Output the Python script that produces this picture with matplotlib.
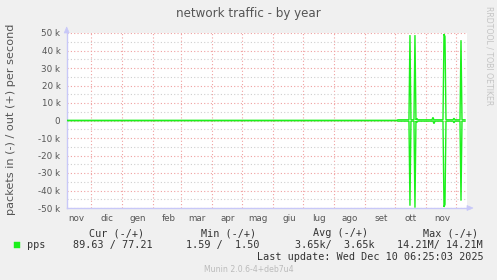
import matplotlib
matplotlib.use("Agg")
import matplotlib.pyplot as plt
import matplotlib.dates as mdates
from matplotlib.patches import Rectangle, Polygon
from matplotlib.ticker import FixedLocator, FuncFormatter
import datetime as dt

W, H = 497, 280

# ---------------- data ----------------
title = "network traffic - by year"
ylabel = "packets in (-) / out (+) per second"
it_months = ["gen", "feb", "mar", "apr", "mag", "giu",
             "lug", "ago", "set", "ott", "nov", "dic"]
ytick_values = [-50000, -40000, -30000, -20000, -10000, 0,
                10000, 20000, 30000, 40000, 50000]
ytick_labels = ["-50 k", "-40 k", "-30 k", "-20 k", "-10 k", "0",
                "10 k", "20 k", "30 k", "40 k", "50 k"]

dates = ["2024-11-07", "2025-10-03", "2025-10-04", "2025-10-15", "2025-10-16",
         "2025-10-17", "2025-10-20", "2025-10-21", "2025-10-22", "2025-10-23",
         "2025-10-24", "2025-11-07", "2025-11-08", "2025-11-09", "2025-11-10",
         "2025-11-18", "2025-11-19", "2025-11-20", "2025-11-21", "2025-11-28",
         "2025-11-29", "2025-11-30", "2025-12-05", "2025-12-06", "2025-12-07",
         "2025-12-10"]
out_pps = [80, 80, 400, 400, 48800,
           400, 400, 48800, 400, 1100,
           400, 400, 1800, 300, 400,
           400, 49400, 48000, 400, 400,
           1300, 400, 400, 45900, 400,
           400]
in_pps = [90, 90, 350, 350, 48700,
          350, 350, 49800, 350, 1000,
          350, 350, 300, 1800, 350,
          350, 49400, 48000, 350, 350,
          1300, 350, 350, 45800, 350,
          350]

x_start = "2024-11-07"
x_end = "2025-12-12"

series_name = "pps"
legend_header = ["Cur (-/+)", "Min (-/+)", "Avg (-/+)", "Max (-/+)"]
legend_values = ["89.63 / 77.21", "1.59 /  1.50", "3.65k/  3.65k", "14.21M/ 14.21M"]
last_update = "Last update: Wed Dec 10 06:25:03 2025"
footer = "Munin 2.0.6-4+deb7u4"
watermark = "RRDTOOL / TOBI OETIKER"

# ---------------- styling ----------------
BG = "#F0F0F0"
LINE = "#1BF01B"
AXIS = "#C8C8F8"
MGRID = "#F0A0A0"
GRID = "#CFCFCF"
TXT = "#555555"


def px(x, y):
    return (x / W, 1 - y / H)


fig = plt.figure(figsize=(W / 100, H / 100), dpi=100, facecolor=BG)
L, R, T, B = 66.7, 467.0, 33.0, 208.0
ax = fig.add_axes([L / W, 1 - B / H, (R - L) / W, (B - T) / H])
ax.set_facecolor("white")

d = [mdates.date2num(dt.datetime.strptime(s, "%Y-%m-%d")) for s in dates]
ax.plot(d, out_pps, color=LINE, lw=1.0, solid_joinstyle="miter", zorder=5)
ax.plot(d, [-v for v in in_pps], color=LINE, lw=1.0, solid_joinstyle="miter", zorder=5)

x0 = mdates.date2num(dt.datetime.strptime(x_start, "%Y-%m-%d"))
x1 = mdates.date2num(dt.datetime.strptime(x_end, "%Y-%m-%d"))
ax.set_xlim(x0, x1)
ax.set_ylim(-50000, 50000)

# y ticks / grid
ax.yaxis.set_major_locator(FixedLocator(ytick_values))
ax.set_yticklabels(ytick_labels)
ax.yaxis.set_minor_locator(FixedLocator([v + 5000 for v in ytick_values[:-1]]))
ax.grid(True, which="major", axis="y", color=MGRID, linestyle=(0, (1, 2)), lw=0.8)
ax.grid(True, which="minor", axis="y", color=GRID, linestyle=(0, (1, 2)), lw=0.8)

# x ticks: month starts = grid, labels on mid-month
ax.xaxis.set_major_locator(mdates.MonthLocator())
ax.xaxis.set_major_formatter(FuncFormatter(lambda v, p: ""))
ax.xaxis.set_minor_locator(mdates.MonthLocator(bymonthday=17))
ax.xaxis.set_minor_formatter(FuncFormatter(lambda v, p: it_months[mdates.num2date(v).month - 1]))
ax.grid(True, which="major", axis="x", color=MGRID, linestyle=(0, (1, 2)), lw=0.8)

ax.tick_params(axis="both", which="both", length=0, colors=TXT, labelsize=6.3)
ax.tick_params(axis="y", pad=4.5)
ax.tick_params(axis="x", which="minor", pad=4)

for s in ["top", "right"]:
    ax.spines[s].set_visible(False)
for s in ["left", "bottom"]:
    ax.spines[s].set_color(AXIS)
    ax.spines[s].set_linewidth(1.0)
ax.set_axisbelow(True)

# axis arrows
def fpoly(pts):
    fig.patches.append(Polygon([px(x, y) for x, y in pts], closed=True,
                               transform=fig.transFigure, facecolor=AXIS,
                               edgecolor=AXIS, lw=0.5))

fpoly([(64.2, 33), (69.2, 33), (66.7, 27)])
ax_line = plt.Line2D([R / W, 470 / W], [1 - B / H, 1 - B / H], transform=fig.transFigure,
                     color=AXIS, lw=1.0)
fig.lines.append(ax_line)
fpoly([(467, 205.5), (467, 210.5), (473, 208)])

# texts
fig.text(*px(248, 13), title, ha="center", va="center", color=TXT, fontsize=8.6,
         family="DejaVu Sans")
fig.text(*px(11, 119), ylabel, ha="center", va="center", rotation=90, color=TXT,
         fontsize=8.1, family="DejaVu Sans")
fig.text(*px(489, 6), watermark, ha="center", va="top", rotation=270, color="#C4C4C4",
         fontsize=5.6, family="DejaVu Sans")

mono = dict(family="DejaVu Sans Mono", fontsize=7.3, color="#333333", va="center")
for txt, x in zip(legend_header, [89, 201, 313, 423]):
    fig.text(*px(x, 233.5), txt, ha="left", **mono)
fig.patches.append(Rectangle(px(14, 247.5), 5.5 / W, 5.5 / H, transform=fig.transFigure,
                             facecolor=LINE, edgecolor=LINE, lw=0.3))
fig.text(*px(27, 245), series_name, ha="left", **mono)
for txt, x in zip(legend_values, [73, 186, 295, 397]):
    fig.text(*px(x, 245), txt, ha="left", **mono)
fig.text(*px(483.5, 257.5), last_update, ha="right", **mono)
fig.text(*px(249, 269.5), footer, ha="center", va="center", color="#BBBBBB",
         fontsize=5.6, family="DejaVu Sans")

fig.savefig("out.png", dpi=100, facecolor=BG)
